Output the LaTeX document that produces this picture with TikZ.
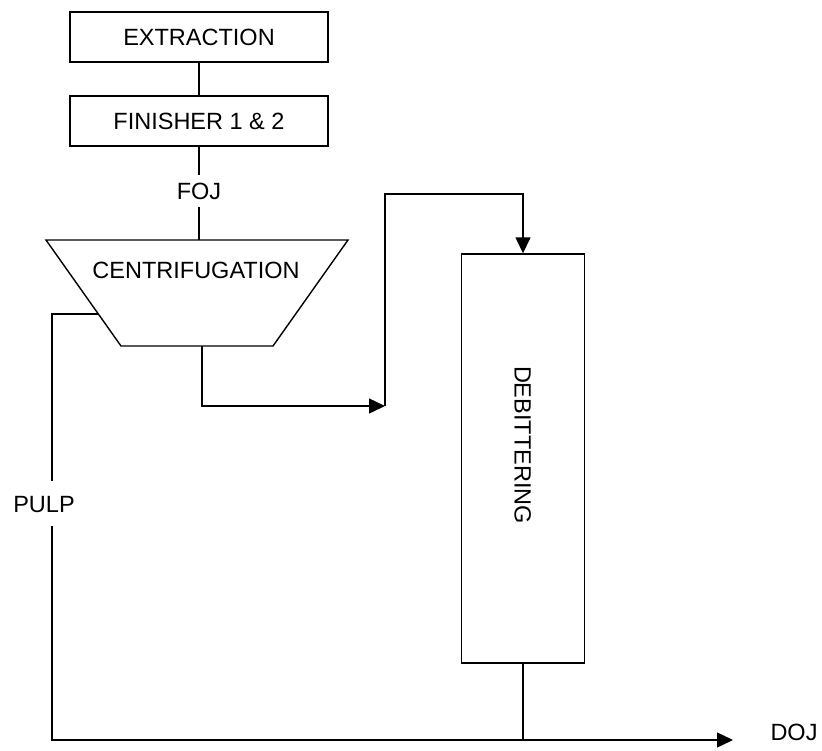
\documentclass[tikz,border=0pt]{standalone}
\usepackage{fontspec}
\setmainfont{Liberation Sans}
\usetikzlibrary{arrows.meta}

\tikzset{
  unit/.style={draw, line width=1.4pt, minimum width=258pt, minimum height=50pt,
    inner sep=0pt, font=\fontsize{23.5}{26}\selectfont},
  tag/.style={font=\fontsize{23.5}{26}\selectfont, text height=17pt, text depth=0pt,
    inner xsep=0pt},
  flow/.style={line width=1.4pt},
  feed/.style={flow, -{Triangle[length=16pt,width=15pt]}}
}

\begin{document}
\begin{tikzpicture}[x=1pt,y=-1pt]
\useasboundingbox (0,0) rectangle (822,750);

\node[unit] (extraction) at (199,37) {EXTRACTION};
\node[unit] (finisher) at (199,121) {FINISHER 1 \& 2};
\node[tag, inner ysep=7pt] (foj) at (199,191) {FOJ};

% centrifuge (trapezoid)
\coordinate (C1) at (46,240);
\coordinate (C2) at (348,240);
\coordinate (C3) at (273,346);
\coordinate (C4) at (121,346);
\draw[flow] (C1) -- (C2) -- (C3) -- (C4) -- cycle;
\node[tag, inner sep=0pt] (centrif) at (196,270) {CENTRIFUGATION};

\coordinate (C5) at (202,346);
\coordinate (turn) at (385,406);
\coordinate (up) at (385,194);

% debittering column
\node[draw, line width=1.4pt, minimum width=123pt, minimum height=409pt] (debit) at (523,458.5) {};
\node[tag, rotate=-90, inner sep=0pt] (debitlabel) at (523,445) {DEBITTERING};

% pulp side and product
\coordinate (P0) at (98,314);
\coordinate (P1) at (52,314);
\node[tag, inner ysep=14pt] (pulp) at (44,503.5) {PULP};
\coordinate (P2) at (52,740);
\coordinate (out) at (733,740);
\node[tag, inner sep=0pt] (doj) at (794,732) {DOJ};

\draw[flow] (extraction) -- (finisher);
\draw[flow] (finisher) -- (foj);
\draw[flow] (foj) -- (foj |- C1);

\draw[feed] (C5) |- (turn);
\draw[feed] (turn) -- (up) -| (debit.north);

\draw[flow] (P0) -- (P1) -- (P1 |- pulp.north);
\draw[feed] (P1 |- pulp.south) -- (P2) -- (out);
\draw[flow] (debit.south) -- (debit.south |- P2);

\end{tikzpicture}
\end{document}
